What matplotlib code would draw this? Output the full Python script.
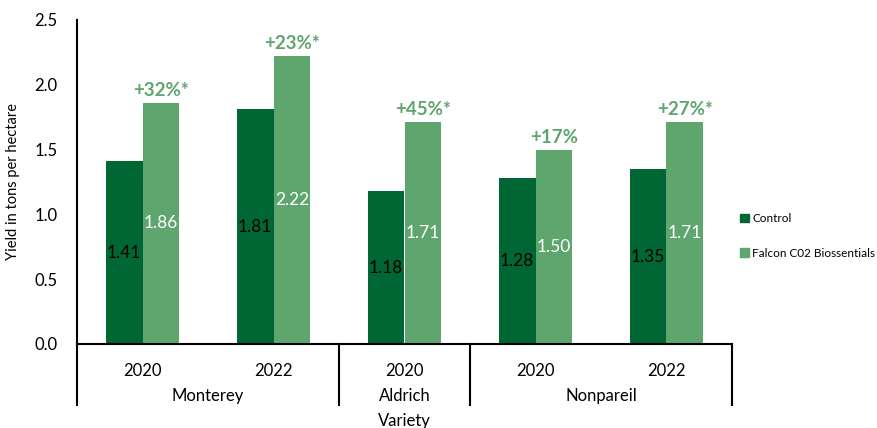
import matplotlib
matplotlib.use("Agg")
import matplotlib.pyplot as plt
import matplotlib.transforms as mtransforms
from matplotlib.patches import Patch
import numpy as np

plt.rcParams['font.family'] = ['Lato', 'DejaVu Sans']

varieties = ["Monterey", "Monterey", "Aldrich", "Nonpareil", "Nonpareil"]
years = ["2020", "2022", "2020", "2020", "2022"]
control = [1.41, 1.81, 1.18, 1.28, 1.35]
falcon = [1.86, 2.22, 1.71, 1.50, 1.71]
pct_labels = ["+32%*", "+23%*", "+45%*", "+17%", "+27%*"]
series_names = ["Control", "Falcon C02 Biossentials"]

c_dark = "#006633"
c_light = "#5FA56E"

fig = plt.figure(figsize=(8.77, 4.28), dpi=100)
ax = fig.add_axes([77/877, (428-344)/428, 655/877, 324/428])

x = np.arange(len(years))
w = 0.28
ax.bar(x - w/2, control, w, color=c_dark, label=series_names[0])
ax.bar(x + w/2, falcon, w, color=c_light, label=series_names[1])

for xi, v in zip(x, control):
    ax.text(xi - w/2, v/2, f"{v:.2f}", ha='center', va='center', color='black', fontsize=12.5)
for xi, v, p in zip(x, falcon, pct_labels):
    ax.text(xi + w/2, v/2, f"{v:.2f}", ha='center', va='center', color='white', fontsize=12.5)
    ax.text(xi + w/2, v + 0.03, p, ha='center', va='bottom', color=c_light, fontsize=13.5, fontweight='bold')

ax.set_xlim(-0.5, len(years) - 0.5)
ax.set_ylim(0, 2.5)
ticks = [0, 0.5, 1.0, 1.5, 2.0, 2.5]
ax.set_yticks(ticks)
ax.set_yticklabels([f"{t:.1f}" for t in ticks], fontsize=12)
ax.tick_params(axis='y', length=0, pad=14)
ax.set_xticks([])
for s in ['top', 'right']:
    ax.spines[s].set_visible(False)
ax.spines['left'].set_linewidth(1.5)
ax.spines['bottom'].set_linewidth(1.5)
ax.set_ylabel("Yield in tons per hectare", fontsize=10.5)
ax.yaxis.set_label_coords(-0.087, 0.5)

trans = mtransforms.blended_transform_factory(ax.transData, ax.transAxes)
for xi, yr in zip(x, years):
    ax.text(xi, -0.083, yr, transform=trans, ha='center', va='center', fontsize=12)

groups = []
for i, v in enumerate(varieties):
    if groups and groups[-1][0] == v:
        groups[-1][2] = i
    else:
        groups.append([v, i, i])
seps = set()
for name, s, e in groups:
    ax.text((s + e) / 2, -0.160, name, transform=trans, ha='center', va='center', fontsize=12)
    seps.add(s - 0.5)
    seps.add(e + 0.5)
for sx in sorted(seps):
    ax.plot([sx, sx], [0, -0.188], transform=trans, color='black', lw=1.5, clip_on=False)

fig.text((77 + 655/2)/877, (428-413)/428, "Variety", ha='center', va='top', fontsize=12)

handles = [Patch(color=c_dark), Patch(color=c_light)]
fig.legend(handles, series_names, loc='upper left', bbox_to_anchor=(740/877, (428-213)/428),
           frameon=False, fontsize=8.5, handlelength=0.75, handleheight=0.75,
           labelspacing=2.0, handletextpad=0.3, borderaxespad=0, borderpad=0)

fig.savefig("out.png", dpi=100)
